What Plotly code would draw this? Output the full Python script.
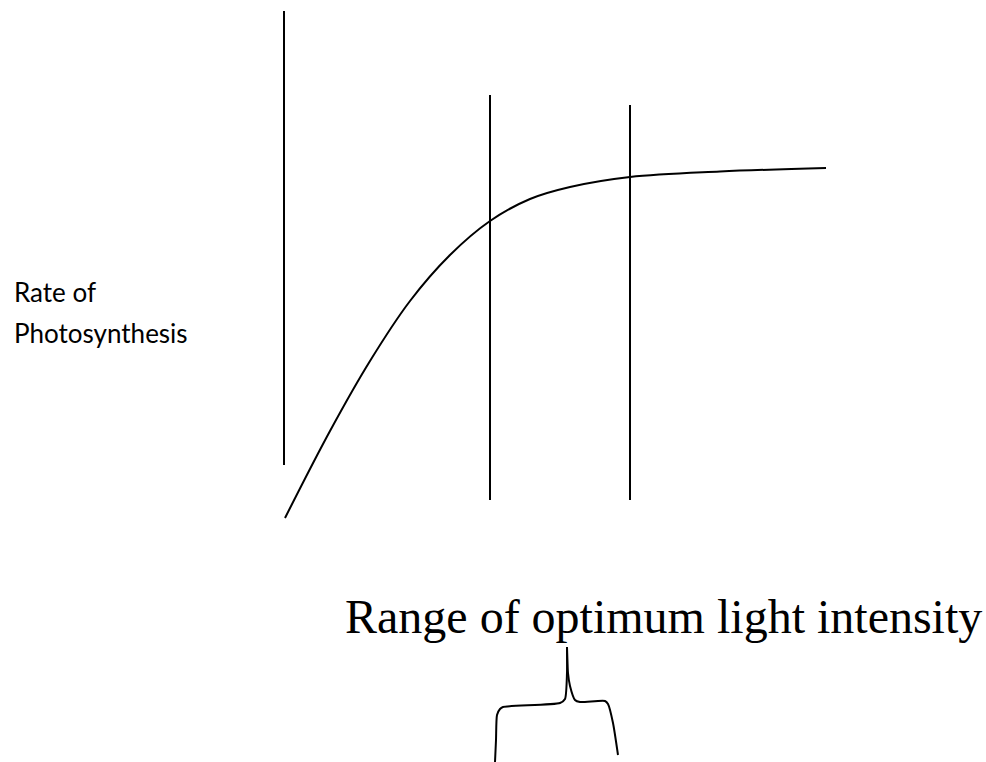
import plotly.graph_objects as go

# ---- data (diagram coordinates in the picture's own pixel space) ----
curve_x = [285, 330, 370, 410, 450, 490, 530, 570, 630, 720, 826]
curve_y = [518, 431, 361, 301, 255, 221, 199, 187, 177, 171.5, 168]

vline_x = [284, 490, 630]
vline_top = [11, 95, 105]
vline_bottom = [465, 500, 500]

brace_left_x = [495, 496, 497, 500, 503, 560, 565, 567, 567]
brace_left_y = [762, 740, 715, 709, 707, 703, 699, 673, 647]
brace_right_x = [567, 568, 570, 575, 580, 605, 608, 613, 618]
brace_right_y = [647, 673, 686, 700, 702, 701, 704, 723, 755]

ylabel_lines = ["Rate of", "Photosynthesis"]
ylabel_pos = [(12, 292), (12, 333)]
range_label = "Range of optimum light intensity"

fig = go.Figure()

fig.add_trace(go.Scatter(x=curve_x, y=curve_y, mode="lines",
                         line=dict(color="black", width=2, shape="spline", smoothing=1.0),
                         hoverinfo="skip", showlegend=False))

for x, t, b in zip(vline_x, vline_top, vline_bottom):
    fig.add_trace(go.Scatter(x=[x, x], y=[t, b], mode="lines",
                             line=dict(color="black", width=2),
                             hoverinfo="skip", showlegend=False))

for bx, by in ((brace_left_x, brace_left_y), (brace_right_x, brace_right_y)):
    fig.add_trace(go.Scatter(x=bx, y=by, mode="lines",
                             line=dict(color="black", width=2, shape="spline", smoothing=0.6),
                             hoverinfo="skip", showlegend=False))

for txt, (x, y) in zip(ylabel_lines, ylabel_pos):
    fig.add_annotation(x=x, y=y, text=txt, showarrow=False, xanchor="left", yanchor="middle",
                       font=dict(family="Lato", size=26, color="black"))

fig.add_annotation(x=343, y=616, text=range_label, showarrow=False, xanchor="left", yanchor="middle",
                   font=dict(family="Liberation Serif", size=48, color="black"))

fig.update_xaxes(range=[0, 986], visible=False, fixedrange=True)
fig.update_yaxes(range=[762, 0], visible=False, fixedrange=True)
fig.update_layout(width=986, height=762, margin=dict(l=0, r=0, t=0, b=0),
                  plot_bgcolor="white", paper_bgcolor="white", showlegend=False)

fig.write_html("out.html",
               config={"displayModeBar": False, "staticPlot": True},
               post_script="document.body.style.margin='0';document.body.style.overflow='hidden';")
